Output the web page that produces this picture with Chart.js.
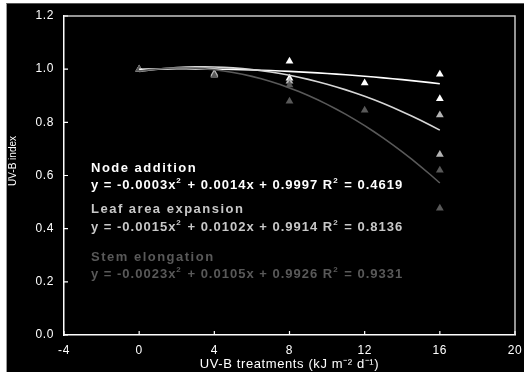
<!DOCTYPE html>
<html>
<head>
<meta charset="utf-8">
<script src="https://cdn.jsdelivr.net/npm/chart.js@4.4.1/dist/chart.umd.min.js"></script>
<style>
  html, body { margin: 0; padding: 0; background: #ffffff; }
  #frame { position: absolute; left: 6px; top: 3px; width: 518px; height: 369px;
           background: #000; border-top: 1px solid #555; border-left: 1px solid #999; box-sizing: border-box; }
  #wrap { position: absolute; left: 0; top: 0; width: 517px; height: 368px; }
</style>
</head>
<body>
<div id="frame"><div id="wrap"><canvas id="c"></canvas></div></div>
<script>
// UV-B dose levels and measured response indices (relative to control)
const nodeX = [0, 4, 8, 8, 12, 16, 16];
const nodeY = [1.0, 0.98, 1.03, 0.966, 0.948, 0.981, 0.889];
const leafX = [0, 4, 8, 16, 16];
const leafY = [1.0, 0.985, 0.955, 0.828, 0.679];
const stemX = [0, 4, 8, 8, 12, 16, 16];
const stemY = [1.0, 0.975, 0.94, 0.879, 0.845, 0.62, 0.477];

// Quadratic fit coefficients [a, b, c] for y = a x^2 + b x + c, and R^2
const nodeFit = [-0.0003, 0.0014, 0.9997];
const leafFit = [-0.0015, 0.0102, 0.9914];
const stemFit = [-0.0023, 0.0105, 0.9926];
const r2Values = ['0.4619', '0.8136', '0.9331'];
const seriesNames = ['Node addition', 'Leaf area expansion', 'Stem elongation'];
const fitLabels = ['-0.0003', '0.0014', '0.9997', '-0.0015', '0.0102', '0.9914', '-0.0023', '0.0105', '0.9926'];

const xTicks = [-4, 0, 4, 8, 12, 16, 20];
const yTicks = [0.0, 0.2, 0.4, 0.6, 0.8, 1.0, 1.2];

const colNode = '#ffffff', colLeaf = '#b4b4b4', colStem = '#595959';
const lineLeaf = '#d6d6d6';

function pts(xs, ys) { return xs.map((x, i) => ({ x, y: ys[i] })); }
function fitCurve(c) {
  const out = [];
  for (let x = 0; x <= 16.0001; x += 0.5) out.push({ x, y: c[0] * x * x + c[1] * x + c[2] });
  return out;
}

const fontFam = '"Liberation Sans", Arial, sans-serif';
const OX = 6, OY = 3; // canvas offset inside the page

// inward tick marks, top/right frame of the plot area and the vertical axis title
const frameTicks = {
  id: 'frameTicks',
  afterDraw(chart) {
    const { ctx, chartArea: a, scales: { x, y } } = chart;
    ctx.save();
    ctx.strokeStyle = '#c8c8c8';
    ctx.lineWidth = 1.5;
    ctx.beginPath();
    ctx.moveTo(a.left, a.top); ctx.lineTo(a.right, a.top); ctx.lineTo(a.right, a.bottom);
    ctx.stroke();
    ctx.strokeStyle = '#ffffff';
    ctx.lineWidth = 1.2;
    ctx.beginPath();
    xTicks.forEach(v => { const px = x.getPixelForValue(v); ctx.moveTo(px, a.bottom); ctx.lineTo(px, a.bottom - 4); });
    yTicks.forEach(v => { const py = y.getPixelForValue(v); ctx.moveTo(a.left, py); ctx.lineTo(a.left + 4, py); });
    ctx.stroke();
    ctx.translate(12 - OX, 160 - OY);
    ctx.rotate(-Math.PI / 2);
    ctx.fillStyle = '#ffffff';
    ctx.font = '10px ' + fontFam;
    ctx.textAlign = 'center';
    ctx.textBaseline = 'middle';
    ctx.fillText('UV-B index', 0, 0);
    ctx.restore();
  }
};

// equation labels for the three fitted curves
const eqLabels = {
  id: 'eqLabels',
  afterDraw(chart) {
    const { ctx } = chart;
    const blocks = [
      { name: seriesNames[0], c: fitLabels.slice(0, 3), r2: r2Values[0], color: colNode, y1: 171, y2: 188 },
      { name: seriesNames[1], c: fitLabels.slice(3, 6), r2: r2Values[1], color: '#c8c8c8', y1: 212, y2: 230 },
      { name: seriesNames[2], c: fitLabels.slice(6, 9), r2: r2Values[2], color: colStem, y1: 260, y2: 277 }
    ];
    ctx.save();
    ctx.textBaseline = 'alphabetic';
    ctx.textAlign = 'left';
    blocks.forEach(b => {
      ctx.fillStyle = b.color;
      ctx.font = 'bold 13px ' + fontFam;
      ctx.letterSpacing = '1.5px';
      ctx.fillText(b.name, 90 - OX, b.y1 - OY);
      ctx.letterSpacing = '1px';
      const parts = [
        ['y = ' + b.c[0] + 'x', false], ['2', true],
        [' + ' + b.c[1] + 'x + ' + b.c[2] + ' R', false], ['2', true],
        [' = ' + b.r2, false]
      ];
      let x = 90 - OX;
      parts.forEach(([t, sup]) => {
        ctx.font = sup ? 'bold 8px ' + fontFam : 'bold 13px ' + fontFam;
        ctx.fillText(t, x, b.y2 - OY - (sup ? 6 : 0));
        x += ctx.measureText(t).width + (sup ? 1 : 0);
      });
    });
    ctx.restore();
  }
};

// wider tracking for the axis text
const tracking = {
  id: 'tracking',
  beforeDraw(chart) { chart.ctx.letterSpacing = '0.6px'; },
  afterDatasetsDraw(chart) { chart.ctx.letterSpacing = '0px'; }
};

const tri = { pointStyle: 'triangle', pointRadius: 4.5, pointHoverRadius: 4.5, showLine: false, borderWidth: 0 };

new Chart(document.getElementById('c'), {
  type: 'scatter',
  data: {
    datasets: [
      { label: 'Stem fit', data: fitCurve(stemFit), type: 'line', borderColor: colStem, borderWidth: 1.6, pointRadius: 0, fill: false },
      { label: 'Leaf fit', data: fitCurve(leafFit), type: 'line', borderColor: lineLeaf, borderWidth: 1.6, pointRadius: 0, fill: false },
      { label: 'Node fit', data: fitCurve(nodeFit), type: 'line', borderColor: colNode, borderWidth: 1.6, pointRadius: 0, fill: false },
      Object.assign({ label: seriesNames[2], data: pts(stemX, stemY), backgroundColor: colStem, borderColor: colStem }, tri),
      Object.assign({ label: seriesNames[1], data: pts(leafX, leafY), backgroundColor: colLeaf, borderColor: colLeaf }, tri),
      Object.assign({ label: seriesNames[0], data: pts(nodeX, nodeY), backgroundColor: colNode, borderColor: colNode }, tri)
    ]
  },
  options: {
    responsive: true,
    maintainAspectRatio: false,
    animation: false,
    events: [],
    layout: { padding: { top: 12, right: 9, left: 0, bottom: 0 } },
    plugins: { legend: { display: false }, tooltip: { enabled: false } },
    scales: {
      x: {
        type: 'linear', min: -4, max: 20,
        afterBuildTicks: s => { s.ticks = xTicks.map(v => ({ value: v })); },
        afterFit: s => { s.height = 37; s.paddingRight = 0; s.paddingLeft = 0; },
        grid: { display: false, drawTicks: false },
        border: { display: true, color: '#ffffff', width: 1.5 },
        ticks: { color: '#ffffff', font: { family: fontFam, size: 12 }, padding: 8, maxRotation: 0 },
        title: { display: true, text: 'UV-B treatments (kJ m\u207B\u00B2 d\u207B\u00B9)', color: '#ffffff',
                 font: { family: fontFam, size: 13 }, padding: { top: 1, bottom: 0 } }
      },
      y: {
        type: 'linear', min: 0, max: 1.2,
        afterBuildTicks: s => { s.ticks = yTicks.map(v => ({ value: v })); },
        afterFit: s => { s.width = 57; s.paddingTop = 0; s.paddingBottom = 0; },
        grid: { display: false, drawTicks: false },
        border: { display: true, color: '#ffffff', width: 1.5 },
        ticks: { color: '#ffffff', font: { family: fontFam, size: 12 }, padding: 10,
                 callback: v => v.toFixed(1) }
      }
    }
  },
  plugins: [tracking, frameTicks, eqLabels]
});
</script>
</body>
</html>
